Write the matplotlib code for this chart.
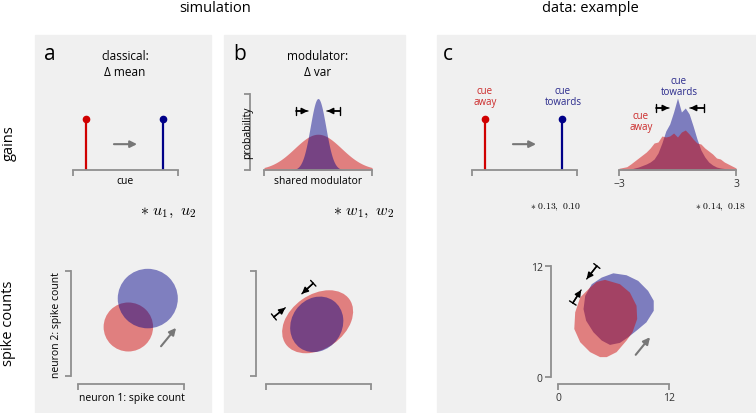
import matplotlib.pyplot as plt
import matplotlib.patches as mpatches
import numpy as np

plt.rcParams['font.family'] = ['Open Sans', 'DejaVu Sans']
plt.rcParams['mathtext.fontset'] = 'cm'

W, H = 756, 414

RED = '#d00000'
BLUE = '#000088'
RED_TXT = '#cc2a2a'
BLUE_TXT = '#2a2a8c'
GREY = '#8f8f8f'
BG = '#f0f0f0'

# gains: cue position of the stems (away, towards)
cue_pos = [1.2, 8.6]
cue_gain = [1.0, 1.0]

# shared modulator (away, towards)
mod_sd = [1.3, 0.43]
mod_peak = [0.40, 0.80]

# data example: modulator distribution
hist_x = [-3.0, -2.8, -2.6, -2.4, -2.2, -2.0, -1.8, -1.6, -1.4, -1.2, -1.0,
          -0.8, -0.6, -0.4, -0.2, 0.0, 0.2, 0.4, 0.6, 0.8, 1.0,
          1.2, 1.4, 1.6, 1.8, 2.0, 2.2, 2.4, 2.6, 2.8, 3.0]
hist_away = [1.7, 2.5, 3.3, 6, 9, 12, 15, 18, 22, 27, 28,
             34, 33, 34, 37, 33, 38, 40, 36, 31, 27,
             26, 22, 19, 16, 12, 11, 8, 6, 4, 2]
hist_towards = [0, 0.3, 0.6, 1, 2, 3, 4.5, 6, 8, 11, 17,
                27, 39, 46, 58, 72, 58, 62, 56, 44, 31,
                20, 13, 8, 5, 3, 2, 1.5, 1, 0.5, 0.3]

# simulation a: spike count circles (x, y, radius)
circ_away = (5.7, 5.6, 2.8)
circ_towards = (7.9, 8.85, 3.4)

# simulation b: spike count ellipses (x, y, width, height, angle)
ell_away = (5.9, 6.2, 8.9, 6.2, 35)
ell_towards = (5.8, 5.9, 6.6, 5.8, 55)

# data example: spike count contours
blob_away_x = [5.09, 6.70, 7.77, 8.49, 8.56, 8.06, 7.41, 6.34, 5.27, 4.55,
               3.47, 2.40, 1.76, 1.86, 2.40, 3.47, 4.19]
blob_away_y = [10.5, 10.03, 9.13, 7.70, 6.27, 4.84, 3.94, 2.69, 2.15, 2.15,
               2.69, 3.76, 5.19, 6.99, 8.60, 9.67, 10.28]
blob_towards_x = [5.98, 7.41, 8.67, 9.74, 10.35, 10.35, 9.56, 8.49, 7.59, 6.70,
                  5.62, 4.73, 3.83, 3.04, 2.76, 2.94, 3.65, 4.73]
blob_towards_y = [11.21, 11.0, 10.39, 9.31, 8.24, 7.16, 5.91, 5.01, 4.30, 3.69,
                  3.47, 3.94, 4.84, 6.09, 7.34, 8.78, 10.03, 10.75]

fig = plt.figure(figsize=(W / 100, H / 100), dpi=100)


def px_axes(x0, y0, x1, y1):
    return fig.add_axes([x0 / W, 1 - y1 / H, (x1 - x0) / W, (y1 - y0) / H],
                        facecolor='none')


def txt(x, y, s, **kw):
    kw.setdefault('ha', 'center')
    kw.setdefault('va', 'center')
    fig.text(x / W, 1 - y / H, s, **kw)


def style(ax, left=False, left_off=0, bottom_off=0, labels=None):
    for s in ['top', 'right']:
        ax.spines[s].set_visible(False)
    ax.spines['left'].set_visible(left)
    for s in ['left', 'bottom']:
        ax.spines[s].set_color(GREY)
        ax.spines[s].set_linewidth(1.3)
    ax.spines['bottom'].set_position(('outward', bottom_off))
    ax.spines['left'].set_position(('outward', left_off))
    ax.set_xticks(ax.get_xlim())
    ax.set_xticklabels(labels if labels else ['', ''])
    if left:
        ax.set_yticks(ax.get_ylim())
        ax.set_yticklabels(labels if labels else ['', ''])
    else:
        ax.set_yticks([])
    ax.tick_params(color=GREY, width=1.3, length=4, labelsize=7.5,
                   labelcolor='#333333', pad=2)


def gray_arrow(ax, tail, head):
    ax.annotate('', xy=head, xytext=tail,
                arrowprops=dict(arrowstyle='-|>', color='#777777', lw=1.5,
                                mutation_scale=10, shrinkA=0, shrinkB=0))


def bar_arrow(ax, tail, head):
    ax.annotate('', xy=head, xytext=tail,
                arrowprops=dict(arrowstyle='-|>', color='black', lw=1.1,
                                mutation_scale=9, shrinkA=0, shrinkB=0))
    ax.annotate('', xy=head, xytext=tail,
                arrowprops=dict(arrowstyle='|-|, widthA=0.35, widthB=0',
                                color='black', lw=1.0, mutation_scale=8,
                                shrinkA=0, shrinkB=0))


# grey panel backgrounds
for x0, x1 in [(35, 211), (224, 405), (437, 757)]:
    fig.patches.append(mpatches.Rectangle((x0 / W, 0), (x1 - x0) / W, 1 - 36 / H,
                                          transform=fig.transFigure,
                                          color=BG, zorder=-10))

# headings
txt(215, 8, 'simulation', fontsize=10.5)
txt(590, 8, 'data: example', fontsize=10.5)
txt(9, 143, 'gains', fontsize=10.5, rotation=90)
txt(9, 323, 'spike counts', fontsize=10.5, rotation=90)
txt(50, 55, 'a', fontsize=15)
txt(240, 55, 'b', fontsize=15)
txt(448, 55, 'c', fontsize=15)
txt(125, 64, 'classical:\n\u0394 mean', fontsize=8.5, linespacing=1.3)
txt(318, 64, 'modulator:\n\u0394 var', fontsize=8.5, linespacing=1.3)


def stems(ax):
    ax.set_xlim(0, 10)
    ax.set_ylim(0, 1.5)
    style(ax)
    for x, g, c in zip(cue_pos, cue_gain, [RED, BLUE]):
        ax.vlines(x, 0, g, color=c, lw=1.6)
        ax.plot(x, g, 'o', color=c, ms=4.5, clip_on=False)
    gray_arrow(ax, (3.9, 0.51), (6.1, 0.51))


# a: gains
ax = px_axes(73, 95, 178, 171)
stems(ax)
txt(125, 182, 'cue', fontsize=7.5)
txt(168, 212, r'$*\ u_1,\ u_2$', fontsize=11.5)

# b: shared modulator
ax = px_axes(264, 95, 372, 171)
ax.set_xlim(-3, 3)
ax.set_ylim(0, 0.85)
style(ax, left=True, left_off=10)
xs = np.linspace(-3, 3, 300)
for sd, pk, c in zip(mod_sd, mod_peak, [RED, BLUE]):
    ax.fill_between(xs, 0, pk * np.exp(-0.5 * (xs / sd) ** 2),
                    color=c, alpha=0.47, lw=0)
bar_arrow(ax, (-1.22, 0.66), (-0.56, 0.66))
bar_arrow(ax, (1.22, 0.66), (0.5, 0.66))
txt(248, 133, 'probability', fontsize=7.5, rotation=90)
txt(318, 182, 'shared modulator', fontsize=7.5)
txt(364, 212, r'$*\ w_1,\ w_2$', fontsize=11.5)

# c: data gains
ax = px_axes(472, 95, 577, 171)
stems(ax)
txt(485, 97, 'cue\naway', fontsize=7, color=RED_TXT, linespacing=1.1)
txt(563, 97, 'cue\ntowards', fontsize=7, color=BLUE_TXT, linespacing=1.1)
txt(556, 207, r'$\ast\ 0.13,\ 0.10$', fontsize=7)

ax = px_axes(619, 95, 736, 171)
ax.set_xlim(-3, 3)
ax.set_ylim(0, 76)
style(ax, labels=['\u22123', '3'])
ax.fill_between(hist_x, 0, hist_towards, color=BLUE, alpha=0.48, lw=0)
ax.fill_between(hist_x, 0, hist_away, color=RED, alpha=0.47, lw=0)
bar_arrow(ax, (-1.1, 62), (-0.44, 62))
bar_arrow(ax, (1.36, 62), (0.64, 62))
txt(679, 87, 'cue\ntowards', fontsize=7, color=BLUE_TXT, linespacing=1.1)
txt(641, 122, 'cue\naway', fontsize=7, color=RED_TXT, linespacing=1.1)
txt(721, 207, r'$\ast\ 0.14,\ 0.18$', fontsize=7)

# a: spike counts
ax = px_axes(78, 272, 184, 377)
ax.set_xlim(0, 12)
ax.set_ylim(0, 12)
style(ax, left=True, left_off=5, bottom_off=6)
for (cx, cy, r), c in zip([circ_away, circ_towards], [RED, BLUE]):
    ax.add_patch(mpatches.Ellipse((cx, cy), 2 * r, 2 * r, color=c, alpha=0.47,
                                  lw=0, clip_on=False))
gray_arrow(ax, (9.4, 3.4), (11.1, 5.5))
txt(57, 325, 'neuron 2: spike count', fontsize=7.5, rotation=90)
txt(132, 399, 'neuron 1: spike count', fontsize=7.5)

# b: spike counts
ax = px_axes(266, 272, 371, 377)
ax.set_xlim(0, 12)
ax.set_ylim(0, 12)
style(ax, left=True, left_off=7, bottom_off=6)
for (cx, cy, w, h, ang), c in zip([ell_away, ell_towards], [RED, BLUE]):
    ax.add_patch(mpatches.Ellipse((cx, cy), w, h, angle=ang, color=c, alpha=0.47,
                                  lw=0, clip_on=False))
bar_arrow(ax, (0.9, 6.75), (2.2, 7.8))
bar_arrow(ax, (5.4, 10.6), (4.1, 9.4))

# c: spike counts
ax = px_axes(558, 267, 669, 378)
ax.set_xlim(0, 12)
ax.set_ylim(0, 12)
style(ax, left=True, left_off=5, bottom_off=5, labels=['0', '12'])
ax.add_patch(mpatches.Polygon(np.column_stack([blob_towards_x, blob_towards_y]),
                              closed=True, color=BLUE, alpha=0.48, lw=0, clip_on=False))
ax.add_patch(mpatches.Polygon(np.column_stack([blob_away_x, blob_away_y]),
                              closed=True, color=RED, alpha=0.47, lw=0, clip_on=False))
bar_arrow(ax, (1.6, 8.0), (2.5, 9.4))
bar_arrow(ax, (4.2, 12.0), (3.1, 10.6))
gray_arrow(ax, (8.4, 2.4), (9.95, 4.3))

fig.savefig('out.png', dpi=100)
